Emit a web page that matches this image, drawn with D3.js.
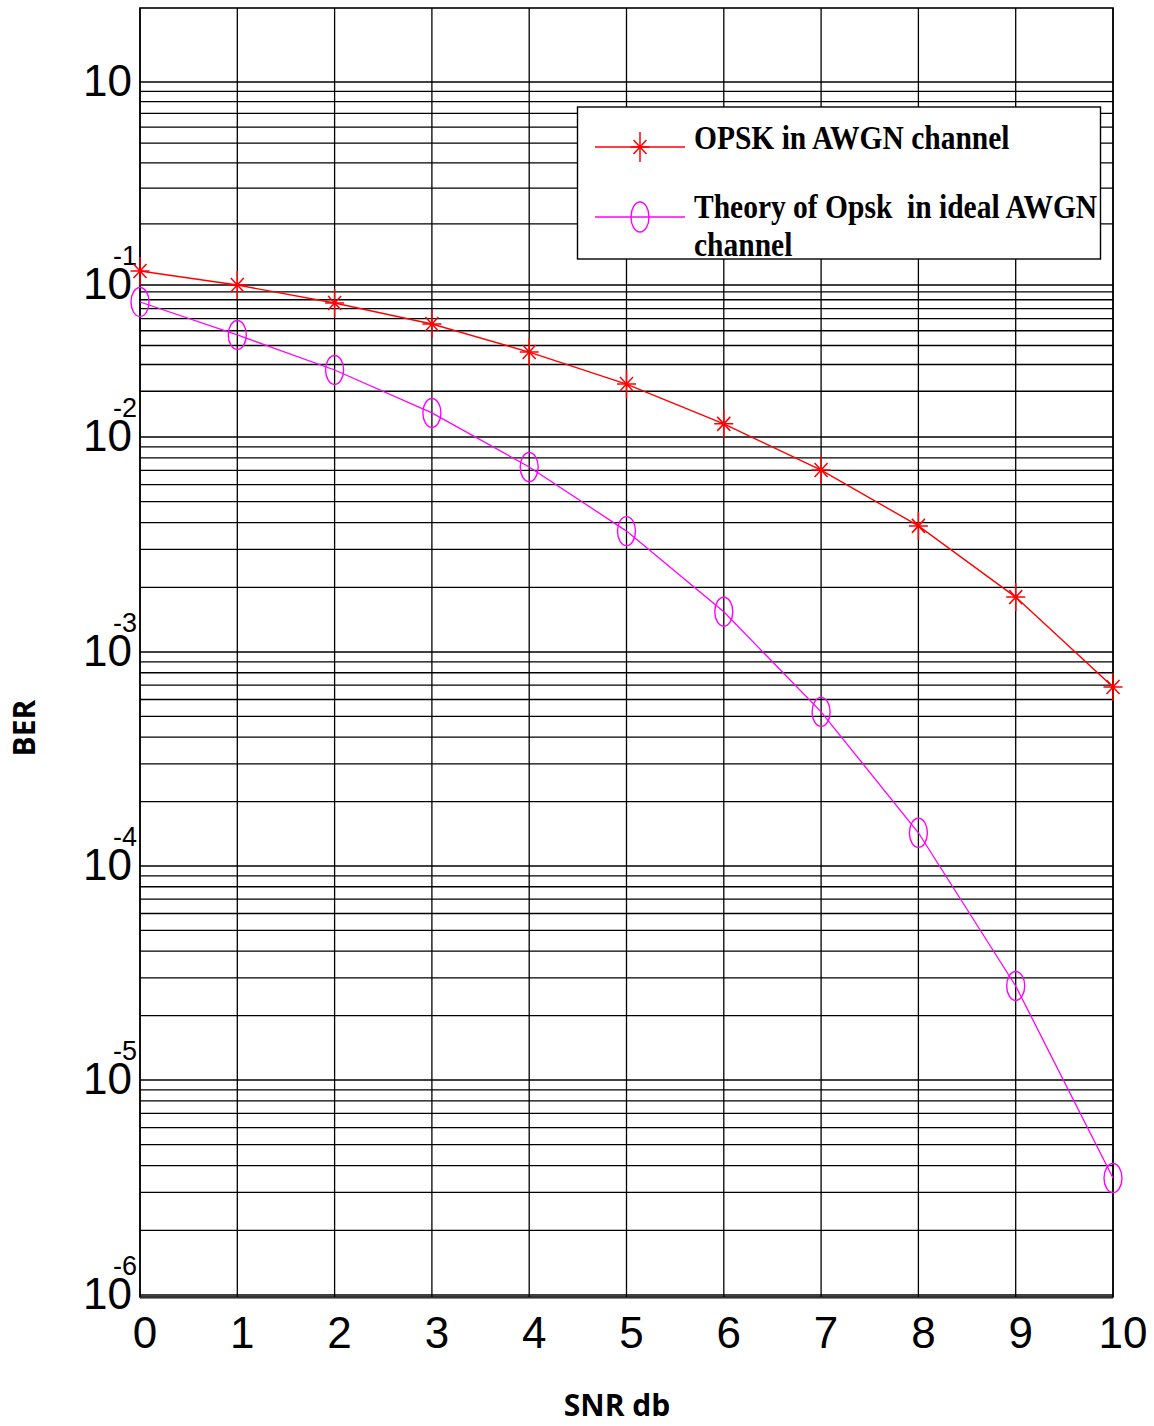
<!DOCTYPE html>
<html>
<head>
<meta charset="utf-8">
<script src="https://cdn.jsdelivr.net/npm/d3@7"></script>
<style>
  html, body { margin: 0; padding: 0; background: #fff; }
  svg { display: block; }
</style>
</head>
<body>
<svg id="chart" width="1154" height="1426"></svg>
<script>
// ---------------- data ----------------
const snr = [0, 1, 2, 3, 4, 5, 6, 7, 8, 9, 10];
const berSimulated = [0.1172, 0.1, 0.0761, 0.0554, 0.0362, 0.0223, 0.0122, 0.00702, 0.00386, 0.0018, 0.000686];
const berTheory = [0.0773, 0.0469, 0.0276, 0.0144, 0.00725, 0.00365, 0.00154, 0.000525, 0.000143, 0.0000275, 0.0000035];
const yDecades = [1, 1e-1, 1e-2, 1e-3, 1e-4, 1e-5, 1e-6];
const yTickBase = "10";
const yTickExponents = ["", "-1", "-2", "-3", "-4", "-5", "-6"];
const xTickLabels = ["0", "1", "2", "3", "4", "5", "6", "7", "8", "9", "10"];
const minorMultipliers = [2, 3, 4, 5, 6, 7, 8, 9];
const seriesNames = ["OPSK in AWGN channel", "Theory of Opsk  in ideal AWGN"];
const seriesNameContinuation = ["", "channel"];
const xLabel = "SNR db";
const yLabel = "BER";

// ---------------- layout ----------------
const plotLeft = 140, plotRight = 1113, plotTop = 8, plotBottom = 1297;
const decadeY = [82, 285, 437, 652, 866, 1080, 1295];
const svg = d3.select("#chart");

const x = d3.scaleLinear().domain([0, 10]).range([plotLeft, plotRight]);
const y = d3.scaleLog().domain(yDecades).range(decadeY);

const grid = svg.append("g").attr("stroke", "#000").attr("stroke-width", 1.3);

// vertical grid
grid.selectAll("line.v").data(snr).enter().append("line")
  .attr("x1", d => x(d)).attr("x2", d => x(d))
  .attr("y1", plotTop).attr("y2", plotBottom);

// horizontal grid: decades + minors
const hVals = [];
yDecades.forEach((d, i) => {
  hVals.push(d);
  if (i < yDecades.length - 1) minorMultipliers.forEach(m => hVals.push(m * yDecades[i + 1]));
});
grid.selectAll("line.h").data(hVals).enter().append("line")
  .attr("x1", plotLeft).attr("x2", plotRight)
  .attr("y1", d => y(d)).attr("y2", d => y(d));

// frame
svg.append("rect")
  .attr("x", plotLeft).attr("y", plotTop)
  .attr("width", plotRight - plotLeft).attr("height", plotBottom - plotTop)
  .attr("fill", "none").attr("stroke", "#000").attr("stroke-width", 1.6);
svg.append("line").attr("x1", plotLeft).attr("x2", plotRight)
  .attr("y1", plotBottom + 1.5).attr("y2", plotBottom + 1.5)
  .attr("stroke", "#888").attr("stroke-width", 1.2);

// y tick labels
const yt = svg.append("g").attr("font-family", "'Liberation Sans', Arial, sans-serif").attr("fill", "#000");
yDecades.forEach((d, i) => {
  yt.append("text").attr("x", 132).attr("y", y(d) + 14)
    .attr("text-anchor", "end").attr("font-size", 44).text(yTickBase);
  if (yTickExponents[i]) {
    yt.append("text").attr("x", 113).attr("y", y(d) - 20)
      .attr("font-size", 27).text(yTickExponents[i]);
  }
});

// x tick labels
const xt = svg.append("g").attr("font-family", "'Liberation Sans', Arial, sans-serif").attr("fill", "#000");
snr.forEach((d, i) => {
  xt.append("text").attr("x", x(d) + 5 + (xTickLabels[i].length - 1) * 5).attr("y", 1348)
    .attr("text-anchor", "middle").attr("font-size", 44).text(xTickLabels[i]);
});

// axis titles
svg.append("text").attr("x", 617).attr("y", 1416)
  .attr("text-anchor", "middle").attr("font-family", "'Open Sans', sans-serif")
  .attr("font-weight", "bold").attr("font-size", 30).text(xLabel);
svg.append("text").attr("transform", "translate(35,728) rotate(-90)")
  .attr("text-anchor", "middle").attr("font-family", "'Open Sans', sans-serif")
  .attr("font-weight", "bold").attr("font-size", 30).text(yLabel);

// ---------------- series ----------------
const starPath = "M0,-14L0,14M-9.5,0L9.5,0M-6.5,-7L6.5,7M-6.5,7L6.5,-7";
const line = d3.line().x(d => x(d[0])).y(d => y(d[1]));
const simPts = snr.map((s, i) => [s, berSimulated[i]]);
const thPts = snr.map((s, i) => [s, berTheory[i]]);

svg.append("path").attr("d", line(simPts)).attr("fill", "none")
  .attr("stroke", "#ff0000").attr("stroke-width", 1.4);
svg.append("g").selectAll("path").data(simPts).enter().append("path")
  .attr("d", starPath)
  .attr("transform", d => `translate(${x(d[0])},${y(d[1])})`)
  .attr("fill", "none").attr("stroke", "#ff0000").attr("stroke-width", 1.5);

svg.append("path").attr("d", line(thPts)).attr("fill", "none")
  .attr("stroke", "#ff00ff").attr("stroke-width", 1.3);
svg.append("g").selectAll("ellipse").data(thPts).enter().append("ellipse")
  .attr("cx", d => x(d[0])).attr("cy", d => y(d[1]))
  .attr("rx", 9).attr("ry", 14.5)
  .attr("fill", "none").attr("stroke", "#ff00ff").attr("stroke-width", 1.4);

// ---------------- legend ----------------
const lg = svg.append("g");
lg.append("rect").attr("x", 577.5).attr("y", 107).attr("width", 523).attr("height", 152)
  .attr("fill", "#fff").attr("stroke", "#000").attr("stroke-width", 1.4);
const legendRows = [
  { color: "#ff0000", marker: "star", yLine: 147, yText: 149 },
  { color: "#ff00ff", marker: "circle", yLine: 217, yText: 218 }
];
legendRows.forEach((r, i) => {
  lg.append("line").attr("x1", 595).attr("x2", 685).attr("y1", r.yLine).attr("y2", r.yLine)
    .attr("stroke", r.color).attr("stroke-width", 1.4);
  if (r.marker === "star") {
    lg.append("path").attr("d", "M0,-15L0,15M-9.5,0L9.5,0M-6.5,-7L6.5,7M-6.5,7L6.5,-7")
      .attr("transform", `translate(640,${r.yLine})`)
      .attr("fill", "none").attr("stroke", r.color).attr("stroke-width", 1.5);
  } else {
    lg.append("ellipse").attr("cx", 640).attr("cy", r.yLine).attr("rx", 9).attr("ry", 15)
      .attr("fill", "none").attr("stroke", r.color).attr("stroke-width", 1.4);
  }
  lg.append("text").attr("transform", `translate(694,${r.yText}) scale(1,1.13)`)
    .attr("font-family", "'Liberation Serif', 'Times New Roman', serif")
    .attr("font-weight", "bold").attr("font-size", 29.5).attr("xml:space", "preserve")
    .style("white-space", "pre").text(seriesNames[i]);
  if (seriesNameContinuation[i]) {
    lg.append("text").attr("transform", `translate(694,${r.yText + 38}) scale(1,1.13)`)
      .attr("font-family", "'Liberation Serif', 'Times New Roman', serif")
      .attr("font-weight", "bold").attr("font-size", 29.5).text(seriesNameContinuation[i]);
  }
});
</script>
</body>
</html>
